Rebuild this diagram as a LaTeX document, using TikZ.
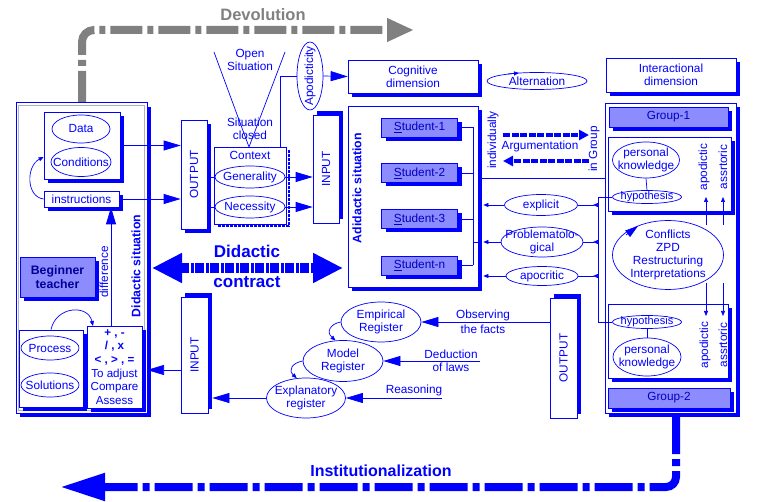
\documentclass[tikz,border=0pt]{standalone}
\usepackage{fontspec}
\setmainfont{Liberation Sans}
\usepackage{graphicx}
\usetikzlibrary{arrows.meta,shapes.geometric,shadows}

\tikzset{
  txt/.style={font=\fontsize{11.8}{13}\selectfont, text=blue, align=center},
  shd/.style={drop shadow={shadow xshift=4pt, shadow yshift=-4pt, fill=blue, opacity=1}},
  shdup/.style={drop shadow={shadow xshift=4pt, shadow yshift=4pt, fill=blue, opacity=1}},
  bx/.style={draw=blue, fill=white, line width=0.7pt, inner sep=0pt, txt, shd},
  iobox/.style={draw=blue, fill=white, line width=0.7pt, inner sep=0pt, txt},
  stud/.style={bx, fill=blue!45, text=blue!75!black},
  ell/.style={draw=blue, fill=white, ellipse, line width=0.7pt, inner sep=0pt, label={[txt]center:{#1}}},
  hypo/.style={draw=blue, fill=white, ellipse, line width=0.7pt, inner sep=0pt, minimum width=69, minimum height=13,
    label={[txt, font=\fontsize{11}{12}\selectfont]center:hypothesis}},
  ln/.style={draw=blue, line width=0.7pt},
  big/.style={ln, -{Triangle[length=17pt,width=10pt]}},
  sml/.style={ln, -{Triangle[length=5pt,width=4pt]}},
  rtxt/.style={txt, rotate=90},
  bold/.style={font=\fontsize{12.3}{14}\selectfont\bfseries},
}

\begin{document}
\begin{tikzpicture}[x=1pt, y=-1pt]
\useasboundingbox (0,0) rectangle (768,502);

% devolution
\draw[gray, line width=8pt, dash pattern=on 32pt off 5pt on 6pt off 5pt, rounded corners=12pt, -{Triangle[length=27pt,width=22pt]}] (82,103) -- (82,30) -- (414,30);
\node[font=\fontsize{16.5}{18}\selectfont\bfseries, text=gray] (devo) at (263,15) {Devolution};

% didactic situation (teacher side)
\node[draw=blue, fill=white, line width=1pt, minimum width=131, minimum height=310, shd] (didsit) at (81.5,258) {};
\draw[gray!60, line width=1.5pt] (18.5,105.5) rectangle (144.5,410.5);
\node[bx, minimum width=76, minimum height=67] (dcbox) at (82,145.5) {};
\node[ell={Data}, minimum width=58, minimum height=28] (data) at (81,129) {};
\node[ell={Conditions}, minimum width=60, minimum height=29] (cond) at (81,162) {};
\node[bx, minimum width=75, minimum height=16] (instr) at (81.5,199) {instructions};
\node[stud, minimum width=75, minimum height=40, bold, text=blue!60!black] (teacher) at (57.5,277) {Beginner\\teacher};
\node[bx, minimum width=64, minimum height=77] (proc) at (51,368.5) {};
\node[ell={Process}, minimum width=58, minimum height=24] (process) at (50,348) {};
\node[ell={Solutions}, minimum width=58, minimum height=24] (sol) at (50,385) {};
\node[bx, minimum width=55, minimum height=82, font=\fontsize{11.6}{13.6}\selectfont] (ops) at (114.5,367)
  {\textbf{+ , -}\\\textbf{/ , x}\\\textbf{< , > , =}\\To adjust\\Compare\\Assess};
\node[rtxt] (diff) at (104,272) {difference};
\node[rtxt, bold] (didlbl) at (136,266) {Didactic situation};
\coordinate (dl) at (111,0);
\coordinate (pa) at (93,326);
\draw[sml] (instr.west) .. controls (26,197) and (26,166) .. (dcbox.west |- 0,157);
\draw[sml] (proc.north) .. controls (56,306) and (88,304) .. (pa);
\draw[big] (ops.north -| dl) -- (instr.south -| dl);

% output / context / input
\node[iobox, shd, minimum width=26, minimum height=109] (out1) at (194,174.5) {\rotatebox{90}{OUTPUT}};
\draw[big] (dcbox.east) -- (out1.west |- dcbox.east);
\draw[big] (instr.east) -- (out1.west |- instr.east);
\node[draw=blue, fill=white, line width=0.7pt, minimum width=72, minimum height=77] (ctx) at (250,185.5) {};
\draw[blue, line width=2pt, dash pattern=on 3pt off 1pt] (288.5,150) -- (288.5,226.5) -- (217,226.5);
\node[txt] (ctxlbl) at (250,155) {Context};
\node[ell={Generality}, minimum width=70, minimum height=22] (gen) at (250,177) {};
\node[ell={Necessity}, minimum width=70, minimum height=22] (nec) at (250,207) {};
\draw[ln] (out1.east |- gen.west) -- (gen.west);
\draw[ln] (out1.east |- nec.west) -- (nec.west);
\coordinate (vtip) at (249,147);
\draw[ln] (214,52) -- (vtip) -- (285,52);
\node[txt] (open) at (250,60) {Open\\Situation};
\node[txt] (closed) at (250,129) {Situation\\closed};
\node[iobox, shdup, minimum width=26, minimum height=108] (in1) at (326,169) {\rotatebox{90}{INPUT}};
\draw[big] (gen.east) -- (in1.west |- gen.east);
\draw[big] (nec.east) -- (in1.west |- nec.east);
\node[ell={\rotatebox{90}{Apodicticity}}, minimum width=26, minimum height=68] (apod) at (310,76) {};
\coordinate (apk) at (280,76);
\draw[ln] (ctx.north -| apk) -- (apk) -- (apod.west);

% cognitive dimension and students
\node[bx, minimum width=130, minimum height=33] (cog) at (413,76.5) {Cognitive\\dimension};
\draw[big] (apod.east) -- (cog.west);
\node[ell={Alternation}, minimum width=100, minimum height=17] (alt) at (537,81) {};
\draw[sml] (508,74) -- (519,73);
\node[bx, minimum width=130, minimum height=181] (adid) at (413,196.5) {};
\node[rtxt, bold] (adidlbl) at (357,188) {Adidactic situation};
\coordinate (bus) at (473,0);
\foreach \i/\y/\t in {1/127.5/1, 2/173/2, 3/219/3, 4/265.5/n} {
  \node[stud, minimum width=76, minimum height=19] (s\i) at (419.5,\y) {\underline{S}tudent-\t};
  \draw[ln] (s\i.east) -- (bus |- s\i.east);
}
\draw[ln] (bus |- s1.east) -- (bus |- s4.east);
\draw[ln] (473,242) -- (adid.east |- 0,242);

% argumentation
\node[rtxt] (indiv) at (493,140) {individually};
\node[rtxt] (ingrp) at (594,149) {in Group};
\node[txt] (argu) at (540,146.5) {Argumentation};
\coordinate (argA) at (503,135);
\coordinate (argB) at (589,135);
\coordinate (argC) at (589,161);
\coordinate (argD) at (503,161);
\draw[blue, line width=4pt, dash pattern=on 7pt off 1.5pt, -{Triangle[length=10pt,width=10pt]}] (argA) -- (argB);
\draw[blue, line width=4pt, dash pattern=on 7pt off 1.5pt, -{Triangle[length=10pt,width=10pt]}] (argC) -- (argD);

% interactional dimension and groups
\node[bx, minimum width=130, minimum height=34] (inter) at (671,75) {Interactional\\dimension};
\node[bx, minimum width=131, minimum height=310] (grp) at (670.5,258) {};
\draw[ln] ([xshift=4pt]adid.east |- 0,178) -- (grp.west |- 0,178);
\node[stud, minimum width=119, minimum height=20] (g1) at (668.5,117) {Group-1};
\node[bx, minimum width=123, minimum height=74] (ib1) at (669.5,174) {};
\node[ell={personal\\knowledge}, minimum width=67, minimum height=36] (pk1) at (646,160) {};
\node[hypo] (hyp1) at (647,197) {};
\draw[ln] (pk1.south) -- (hyp1.north);
\node[rtxt] (apo1) at (704,167) {apodictic};
\node[rtxt] (ass1) at (723,167) {assrtoric};
\node[ell={Conflicts\\ZPD\\Restructuring\\Interpretations}, minimum width=111, minimum height=69] (conf) at (668,255) {};
\draw[ln, -{Triangle[length=13pt,width=8pt]}] (626,235) -- (638,226);
\node[bx, minimum width=120, minimum height=74] (ib2) at (668,341) {};
\node[hypo] (hyp2) at (647,322) {};
\node[ell={personal\\knowledge}, minimum width=68, minimum height=38] (pk2) at (647,357) {};
\draw[ln] (hyp2.south) -- (pk2.north);
\node[rtxt] (apo2) at (705,345) {apodictic};
\node[rtxt] (ass2) at (723,345) {assrtoric};
\node[stud, minimum width=122, minimum height=20] (g2) at (669,398) {Group-2};
\foreach \x in {706,723} {
  \draw[sml] (\x,225) -- (\x,197);
  \draw[sml] (\x,283) -- (\x,316);
}

% question types
\coordinate (gbus) at (598,0);
\draw[ln] (hyp1.west) -- (gbus |- hyp1.west) -- (gbus |- hyp2.west) -- (hyp2.west);
\node[ell={explicit}, minimum width=73, minimum height=21] (expl) at (541,205) {};
\node[ell={Problematolo-\\gical}, minimum width=82, minimum height=30] (prob) at (542,242) {};
\node[ell={apocritic}, minimum width=72, minimum height=19] (apoc) at (542,276) {};
\foreach \e in {expl, prob, apoc} {
  \draw[ln, {Triangle[reversed,length=5pt,width=4pt]}-] (gbus |- \e.east) -- (\e.east);
  \draw[sml] (\e.west) -- ([xshift=5pt]adid.east |- \e.west);
}

% didactic contract
\draw[blue, line width=10pt, dash pattern=on 9pt off 1.5pt on 3pt off 1.5pt, {Triangle[length=30pt,width=28pt]}-{Triangle[length=30pt,width=28pt]}] (152,268) -- (343,268);
\node[font=\fontsize{17}{19}\selectfont\bfseries, text=blue] (dida) at (247,251) {Didactic};
\node[font=\fontsize{17}{19}\selectfont\bfseries, text=blue] (contr) at (247,282) {contract};

% registers
\node[iobox, shdup, minimum width=27, minimum height=116] (in2) at (194.5,355) {\rotatebox{90}{INPUT}};
\node[iobox, shdup, minimum width=27, minimum height=120] (out2) at (563.5,358) {\rotatebox{90}{OUTPUT}};
\coordinate (opsin) at (147,370);
\draw[big] (in2.west |- opsin) -- (opsin);
\node[ell={Empirical\\Register}, minimum width=80, minimum height=40] (emp) at (381,322) {};
\node[ell={Model\\Register}, minimum width=80, minimum height=41] (model) at (343,361) {};
\node[ell={Explanatory\\register}, minimum width=79, minimum height=40] (expr) at (306,398) {};
\draw[sml] (emp.west) .. controls (330,324) and (326,332) .. (model.110);
\draw[sml] (model.west) .. controls (292,363) and (288,370) .. (expr.115);
\draw[big] (expr.west) -- ([xshift=4pt]in2.east |- expr.west);
\draw[big] (out2.west |- emp.east) -- (emp.east);
\coordinate (ded) at (480,361);
\coordinate (rea) at (442,398);
\draw[big] (ded) -- (model.east);
\draw[big] (rea) -- (expr.east);
\node[txt, font=\fontsize{11.8}{15}\selectfont] (obs) at (483,321.5) {Observing\\the facts};
\node[txt] (dedl) at (451,360.5) {Deduction\\of laws};
\node[txt] (real) at (414,390) {Reasoning};

% institutionalization
\draw[blue, line width=8pt, dash pattern=on 38pt off 5pt on 7pt off 5pt, rounded corners=10pt, -{Triangle[length=45pt,width=26pt]}] (676,416) -- (676,487) -- (60,487);
\node[font=\fontsize{16}{18}\selectfont\bfseries, text=blue] (inst) at (381,471) {Institutionalization};
\end{tikzpicture}
\end{document}
